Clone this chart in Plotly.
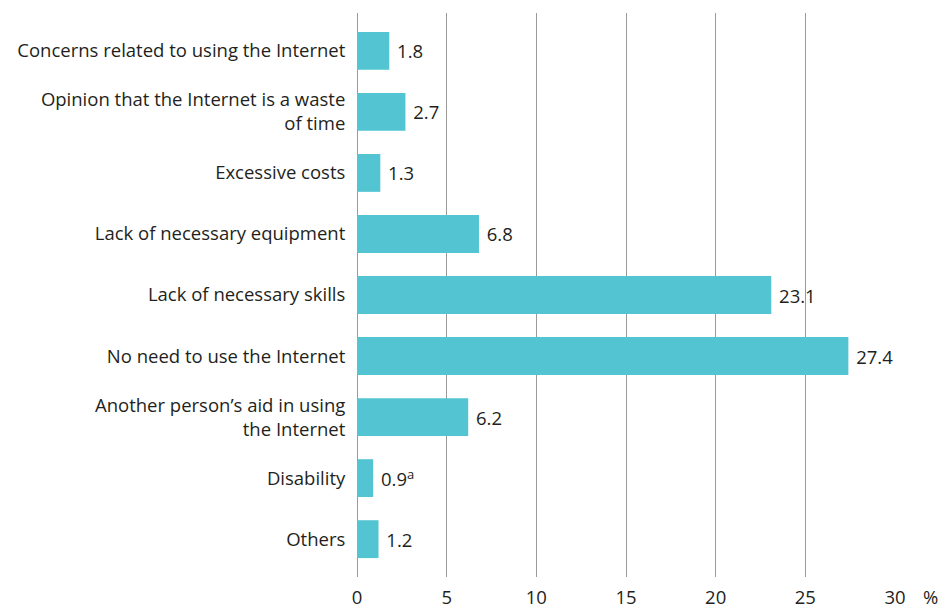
import plotly.graph_objects as go

categories = [
    "Concerns related to using the Internet",
    "Opinion that the Internet is a waste<br>of time",
    "Excessive costs",
    "Lack of necessary equipment",
    "Lack of necessary skills",
    "No need to use the Internet",
    "Another person’s aid in using<br>the Internet",
    "Disability",
    "Others",
]
values = [1.8, 2.7, 1.3, 6.8, 23.1, 27.4, 6.2, 0.9, 1.2]
value_labels = ["1.8", "2.7", "1.3", "6.8", "23.1", "27.4", "6.2", "0.9<sup>a</sup>", "1.2"]
tick_vals = [0, 5, 10, 15, 20, 25, 30]

FONT = "Open Sans"
TXT = "#231F20"
FS = 18.5

L, R, T, B = 357, 46, 13, 32
W, H = 941, 609

fig = go.Figure(go.Bar(
    x=values,
    y=categories,
    orientation="h",
    marker=dict(color="#52C4D2", line=dict(width=0)),
    width=0.62,
    text=value_labels,
    texttemplate=" %{text}",
    textposition="outside",
    textfont=dict(family=FONT, size=FS, color=TXT),
    cliponaxis=False,
    hoverinfo="skip",
))

fig.update_layout(
    width=W, height=H,
    margin=dict(l=L, r=R, t=T, b=B, autoexpand=False),
    plot_bgcolor="white", paper_bgcolor="white",
    font=dict(family=FONT, size=FS, color=TXT),
    showlegend=False,
    xaxis=dict(
        range=[0, 30], tickvals=tick_vals, showgrid=True, gridcolor="#9a9a9a", gridwidth=1,
        zeroline=True, zerolinecolor="#9a9a9a", zerolinewidth=1,
        showline=False, ticks="outside", ticklen=4, tickcolor="rgba(0,0,0,0)",
        tickfont=dict(family=FONT, size=FS, color=TXT),
    ),
    yaxis=dict(
        categoryorder="array", categoryarray=categories, autorange=False,
        range=[8.62, -0.62], showgrid=False, showline=False,
        ticks="outside", ticklen=7, tickcolor="rgba(0,0,0,0)",
        tickfont=dict(family=FONT, size=FS, color=TXT),
    ),
    annotations=[dict(
        text="%",
        x=(930 - L) / (W - L - R), y=-(596 - (H - B)) / (H - T - B),
        xref="paper", yref="paper", showarrow=False,
        xanchor="center", yanchor="middle",
        font=dict(family=FONT, size=FS, color=TXT),
    )],
)

fig.write_html(
    "out.html",
    config={"displayModeBar": False},
    post_script="document.body.style.margin='0';document.body.style.padding='0';",
)
